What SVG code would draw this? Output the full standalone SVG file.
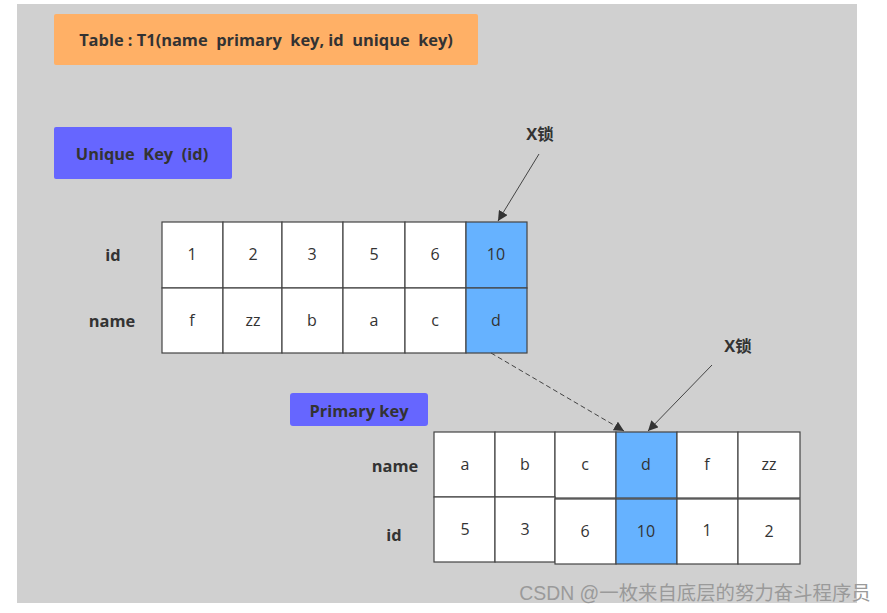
<svg xmlns="http://www.w3.org/2000/svg" width="887" height="613" viewBox="0 0 887 613">
<defs>
<style>
text{white-space:pre}
.bold{font-family:"Open Sans","Noto Sans CJK SC",sans-serif;font-weight:bold;font-size:16.4px;fill:#333;text-anchor:middle;dominant-baseline:central}
.cell{fill:#fff;stroke:#444;stroke-width:1.2}
.hl{fill:#66B2FF;stroke:#444;stroke-width:1.2}
.ct{font-family:"Open Sans",sans-serif;font-size:16px;fill:#333;text-anchor:middle;dominant-baseline:central}
.conn{stroke:#444;stroke-width:1;fill:none}
</style>
<marker id="ah" viewBox="0 0 10 10" refX="10" refY="5" markerWidth="10" markerHeight="10" markerUnits="userSpaceOnUse" orient="auto">
<path d="M0,0 L10,5 L0,10 z" fill="#333"/>
</marker>
</defs>
<rect width="887" height="613" fill="#fff"/>
<rect x="17" y="4" width="840" height="599" fill="#D0D0D0"/>

<g id="title">
<rect x="54" y="14" width="424" height="51" rx="2" fill="#FFB066"/>
<text class="bold" x="266" y="39.5" xml:space="preserve">Table : T1(name  primary  key, id  unique  key)</text>
</g>

<g id="unique-key-label">
<rect x="54" y="127" width="178" height="52" rx="2" fill="#6666FF"/>
<text class="bold" x="142" y="153" xml:space="preserve">Unique  Key  (id)</text>
</g>

<g id="unique-table">
<text class="bold" x="113" y="254">id</text>
<text class="bold" x="112" y="320">name</text>
<rect class="cell" x="162" y="222" width="61" height="66"/>
<rect class="cell" x="223" y="222" width="59" height="66"/>
<rect class="cell" x="282" y="222" width="61" height="66"/>
<rect class="cell" x="343" y="222" width="62" height="66"/>
<rect class="cell" x="405" y="222" width="61" height="66"/>
<rect class="hl" x="466" y="222" width="61" height="66"/>
<rect class="cell" x="162" y="288" width="61" height="65"/>
<rect class="cell" x="223" y="288" width="59" height="65"/>
<rect class="cell" x="282" y="288" width="61" height="65"/>
<rect class="cell" x="343" y="288" width="62" height="65"/>
<rect class="cell" x="405" y="288" width="61" height="65"/>
<rect class="hl" x="466" y="288" width="61" height="65"/>
<text class="ct" x="192" y="254">1</text>
<text class="ct" x="253" y="254">2</text>
<text class="ct" x="312" y="254">3</text>
<text class="ct" x="374" y="254">5</text>
<text class="ct" x="435" y="254">6</text>
<text class="ct" x="496" y="254">10</text>
<text class="ct" x="192" y="320">f</text>
<text class="ct" x="253" y="320">zz</text>
<text class="ct" x="312" y="320">b</text>
<text class="ct" x="374" y="320">a</text>
<text class="ct" x="435" y="320">c</text>
<text class="ct" x="496" y="320">d</text>
</g>

<g id="primary-key-label">
<rect x="290" y="393" width="138" height="33" rx="3" fill="#6666FF"/>
<text class="bold" x="359" y="410">Primary key</text>
</g>

<g id="primary-table">
<text class="bold" x="395" y="465">name</text>
<text class="bold" x="394" y="534">id</text>
<rect class="cell" x="434" y="432" width="61" height="65"/>
<rect class="cell" x="495" y="432" width="60" height="65"/>
<rect class="cell" x="555" y="432" width="61" height="66"/>
<rect class="hl" x="616" y="432" width="61" height="66"/>
<rect class="cell" x="677" y="432" width="61" height="66"/>
<rect class="cell" x="738" y="432" width="62" height="66"/>
<rect class="cell" x="434" y="497" width="61" height="65"/>
<rect class="cell" x="495" y="497" width="60" height="65"/>
<rect class="cell" x="555" y="499" width="61" height="65"/>
<rect class="hl" x="616" y="499" width="61" height="65"/>
<rect class="cell" x="677" y="499" width="61" height="65"/>
<rect class="cell" x="738" y="499" width="62" height="65"/>
<text class="ct" x="465" y="464">a</text>
<text class="ct" x="525" y="464">b</text>
<text class="ct" x="585" y="464">c</text>
<text class="ct" x="646" y="464">d</text>
<text class="ct" x="707" y="464">f</text>
<text class="ct" x="769" y="464">zz</text>
<text class="ct" x="465" y="529">5</text>
<text class="ct" x="525" y="529">3</text>
<text class="ct" x="585" y="531">6</text>
<text class="ct" x="646" y="531">10</text>
<text class="ct" x="707" y="530">1</text>
<text class="ct" x="769" y="531">2</text>
</g>

<g id="lock-label-1">
<text class="bold" x="540" y="133">X锁</text>
</g>
<g id="lock-label-2">
<text class="bold" x="738" y="345">X锁</text>
</g>

<g id="connectors">
<line class="conn" x1="539" y1="154" x2="498" y2="221" marker-end="url(#ah)"/>
<line class="conn" x1="712" y1="365" x2="648" y2="431" marker-end="url(#ah)"/>
<line class="conn" x1="491" y1="353" x2="624" y2="431" stroke-dasharray="5,3" marker-end="url(#ah)"/>
</g>

<text x="695" y="593" font-family="'Liberation Sans','Noto Sans CJK SC',sans-serif" font-size="19.4" fill="#9A9A9A" text-anchor="middle" dominant-baseline="central">CSDN @一枚来自底层的努力奋斗程序员</text>
</svg>
